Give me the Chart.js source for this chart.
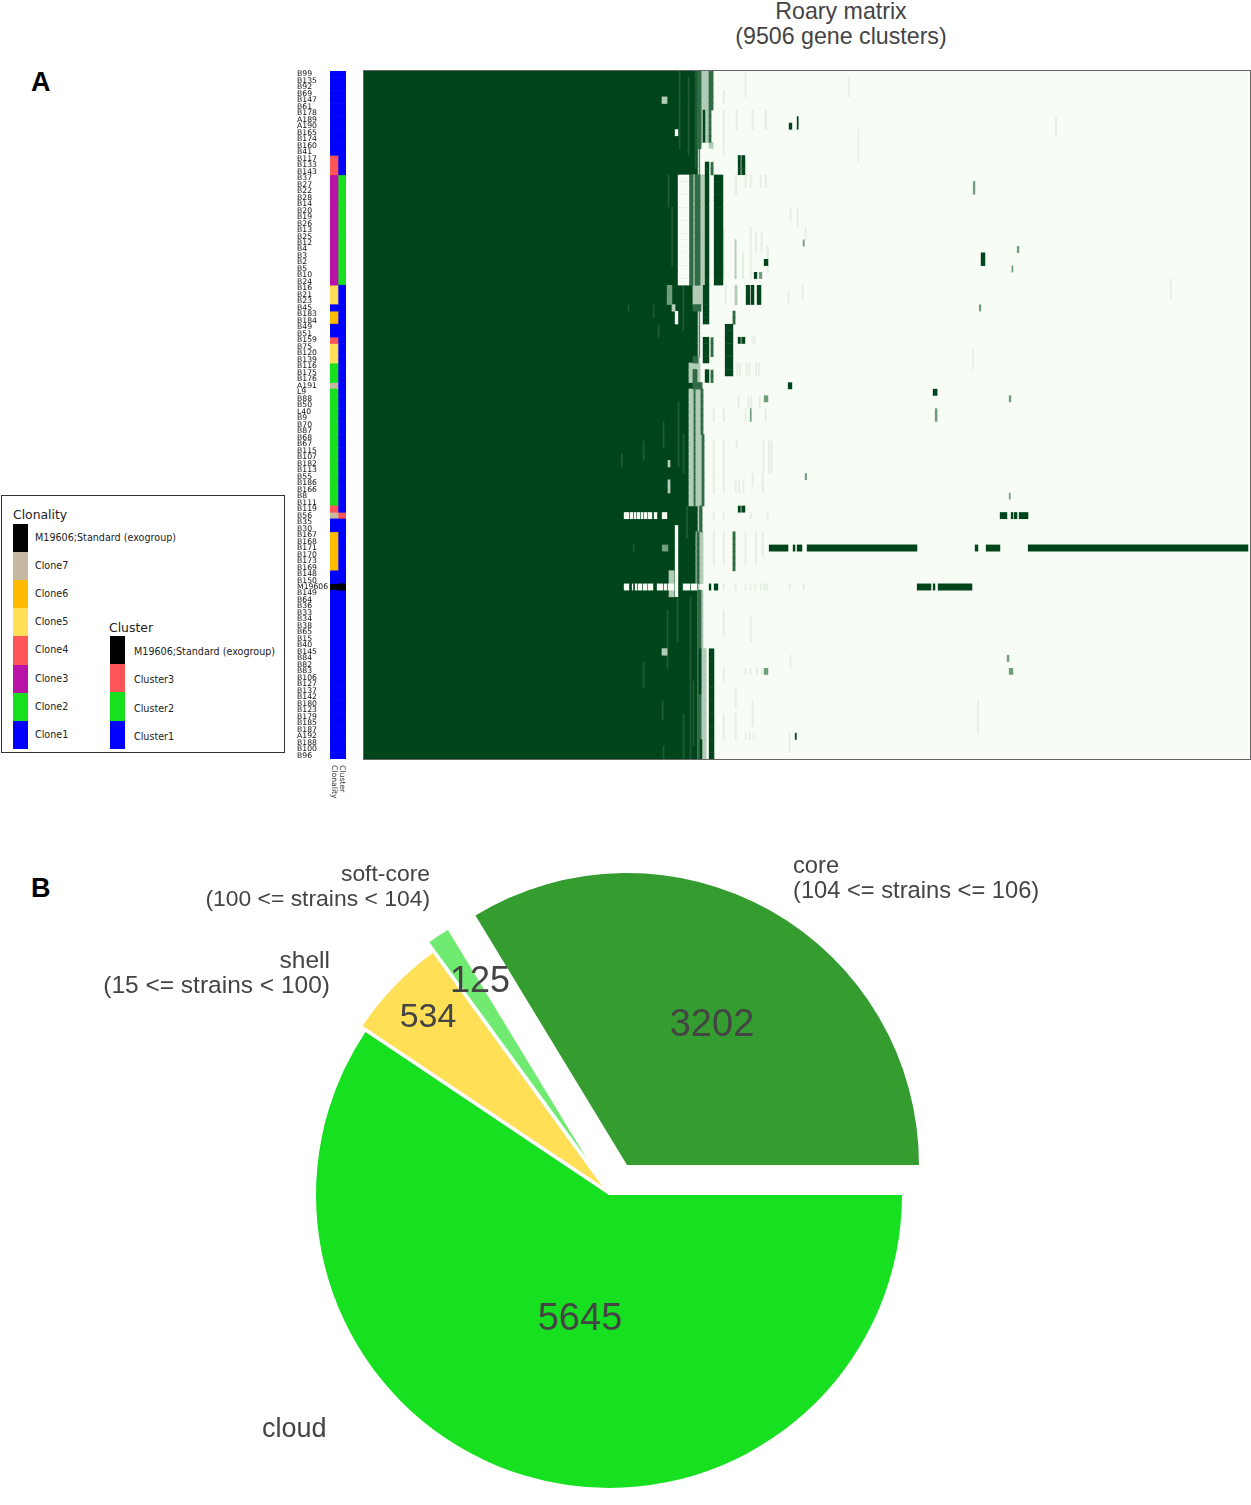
<!DOCTYPE html>
<html>
<head>
<meta charset="utf-8">
<title>Roary matrix</title>
<script src="https://cdn.jsdelivr.net/npm/chart.js@4/dist/chart.umd.min.js"></script>
<style>
  html, body { margin: 0; padding: 0; background: #fff; overflow: hidden; }
  body { position: relative; width: 1251px; height: 1505px; font-family: "Liberation Sans", sans-serif; color: #444; }
  canvas { position: absolute; display: block; }
  .txt { position: absolute; white-space: pre; line-height: 25px; font-size: 23.7px; }
  .letter { position: absolute; font-size: 27px; font-weight: bold; color: #000; line-height: 27px; }
  #legend { position: absolute; left: 1px; top: 495px; width: 282px; height: 256px; border: 1px solid #333; font-family: "DejaVu Sans", sans-serif; color: #222; }
  .swatch { position: absolute; width: 15px; }
  .leg { position: absolute; font-size: 9.6px; line-height: 12px; white-space: pre; }
  .legtitle { position: absolute; font-size: 12.4px; line-height: 14px; white-space: pre; }
</style>
</head>
<body>
<div class="letter" style="left:31px;top:69px">A</div>
<div class="letter" style="left:31px;top:875px">B</div>
<div class="txt" style="left:641px;width:400px;top:-1px;text-align:center;font-size:23.2px">Roary matrix
(9506 gene clusters)</div>

<div id="legend"></div>

<canvas id="stripChart" width="53" height="740" style="left:297px;top:60px"></canvas>
<canvas id="heatChart" width="886" height="688" style="left:364px;top:71px;background:#f7fcf5;outline:1px solid #666"></canvas>
<canvas id="pieChart" width="1251" height="665" style="left:0;top:840px"></canvas>

<div class="txt" style="left:793px;top:853px;font-size:23.7px">core
(104 &lt;= strains &lt;= 106)</div>
<div class="txt" style="right:821px;top:861px;text-align:right;font-size:22.9px">soft-core
(100 &lt;= strains &lt; 104)</div>
<div class="txt" style="right:921px;top:947px;text-align:right;font-size:24.5px">shell
(15 &lt;= strains &lt; 100)</div>
<div class="txt" style="left:262px;top:1416px;font-size:27px">cloud</div>

<script>
// ---- data ----
const strains = ['B99','B135','B92','B69','B147','B61','B178','A189','A190','B165','B174','B160','B41','B117','B133','B143',
  'B37','B27','B22','B28','B14','B20','B19','B26','B13','B25','B12','B4','B3','B2','B5','B10','B24','B16','B21','B23','B45',
  'B183','B184','B49','B51','B159','B75','B120','B139','B116','B175','B176','A191','L9','B88','B50','L40','B9','B70','B87',
  'B68','B67','B115','B107','B182','B113','B55','B186','B166','B8','B111','B119','B56','B35','B30','B167','B168','B171',
  'B170','B173','B169','B148','B150','M19606','B149','B64','B36','B33','B34','B38','B65','B15','B40','B145','B84','B82',
  'B83','B106','B127','B137','B142','B180','B123','B179','B185','B187','A192','B188','B100','B96'];

// group name, number of consecutive strains
const clonalityRuns = [['Clone1',13],['Clone4',3],['Clone3',17],['Clone5',3],['Clone1',1],['Clone6',2],['Clone1',2],['Clone4',1],
  ['Clone5',3],['Clone2',3],['Clone7',1],['Clone2',18],['Clone4',1],['Clone7',1],['Clone1',2],['Clone6',6],['Clone1',2],
  ['M19606;Standard (exogroup)',1],['Clone1',26]];
const clusterRuns = [['Cluster1',16],['Cluster2',17],['Cluster1',35],['Cluster3',1],['Cluster1',10],
  ['M19606;Standard (exogroup)',1],['Cluster1',26]];

const clonalityNames = ['M19606;Standard (exogroup)','Clone7','Clone6','Clone5','Clone4','Clone3','Clone2','Clone1'];
const clusterNames = ['M19606;Standard (exogroup)','Cluster3','Cluster2','Cluster1'];
const stripColumns = ['Clonality','Cluster'];

const totalClusters = 9506;

// [first strain row, last strain row, first gene cluster, last gene cluster], rows counted from 1
const coreBlocks = [[1,12,0,3573],[13,16,0,3595],[17,36,0,3530],[37,44,0,3595],[45,45,0,3530],[46,48,0,3487],[49,49,0,3530],
  [50,67,0,3487],[68,71,0,3605],[72,79,0,3562],[80,106,0,3584]];

// thin lighter lines inside the core
const streakBlocks = [[37,38,3101,3113],[17,21,3262,3274],[1,12,3380,3392],[2,13,3477,3489],[1,15,3552,3564],[37,37,2833,2845],
  [40,41,3155,3167],[55,58,3208,3220],[58,60,2994,3006],[60,61,2760,2772],[52,61,3369,3381],[57,62,3423,3435],[82,88,3358,3370],
  [82,106,3498,3510],[95,104,3530,3542],[100,106,3423,3435],[98,100,3198,3210],[92,95,2994,3006],[105,106,3208,3220],[74,74,2887,2899],
  [22,30,3300,3312],[34,40,3420,3432],[68,72,3460,3472],[84,92,3250,3262]];

const faintBlocks = [[4,5,3852,3866],[7,11,3852,3866],[7,9,3992,4006],[1,4,4088,4100],[7,9,4163,4175],[7,9,4303,4320],[12,13,3852,3864],
  [17,19,3981,4000],[17,18,4088,4100],[17,18,4142,4154],[17,18,4249,4262],[17,18,4303,4320],[22,23,4571,4583],[22,24,4646,4658],
  [25,32,3852,3866],[29,32,4060,4074],[25,32,4142,4156],[26,28,4200,4214],[26,28,4260,4272],[28,31,4324,4340],[25,26,4732,4744],
  [34,36,3874,3888],[35,36,4550,4562],[34,35,4700,4712],[42,42,4163,4175],[42,42,4190,4200],[46,47,4000,4012],[46,47,4030,4042],
  [46,47,4100,4112],[46,47,4130,4142],[46,47,4200,4212],[46,47,4230,4242],[51,52,4013,4025],[51,52,4120,4132],[51,52,4150,4162],
  [51,52,4240,4252],[53,54,3745,3760],[53,54,3852,3866],[53,54,4088,4100],[53,54,4303,4317],[58,62,3745,3760],[58,62,3852,3866],
  [58,62,4281,4293],[58,62,4340,4352],[58,62,4366,4378],[58,58,3992,4010],[63,65,3745,3760],[63,65,3852,3866],[64,65,3981,3993],
  [64,65,4020,4032],[64,65,4066,4078],[63,64,4163,4175],[63,65,4270,4285],[69,69,3745,3760],[69,69,3852,3866],[69,69,4142,4156],
  [69,69,4324,4338],[72,76,3745,3760],[72,76,3852,3866],[72,76,4088,4100],[72,76,4200,4214],[72,75,4270,4285],[80,80,3852,3866],
  [80,80,3981,3995],[80,80,4088,4100],[80,80,4142,4154],[80,80,4190,4202],[80,80,4250,4262],[80,80,4290,4302],[80,80,4318,4330],
  [80,80,4560,4574],[80,80,4710,4725],[84,87,3852,3866],[85,88,4142,4156],[91,92,4570,4582],[93,94,3852,3866],[93,93,4088,4100],
  [93,93,4142,4154],[93,93,4210,4222],[93,93,4262,4274],[96,98,3981,3995],[98,101,4163,4175],[100,103,3852,3866],[100,103,3981,3995],
  [103,103,4088,4100],[103,103,4130,4142],[103,103,4175,4187],[103,105,4560,4572],[10,14,5300,5310],[44,46,6530,6540],[33,35,8650,8662],
  [8,10,7420,7430],[98,102,6580,6592],[2,4,5200,5210]];

const paleBlocks = [[1,6,3616,3702],[12,12,3702,3745],[7,11,3659,3702],[7,11,3616,3637],[17,33,3530,3552],[17,33,3605,3659],
  [34,36,3530,3627],[46,48,3487,3605],[50,67,3487,3541],[50,67,3552,3616],[57,67,3616,3627],[72,79,3595,3637],[72,79,3562,3573],
  [90,106,3616,3670],[81,89,3616,3637],[78,81,3273,3326],[5,5,3198,3251],[61,61,3262,3283],[64,65,3262,3283],
  [90,90,3198,3251],[34,36,3981,4002],[37,37,3305,3337],[27,32,3981,3992],[1,106,3584,3595]];

const midBlocks = [[18,19,6535,6556],[28,28,7007,7028],[31,31,6950,6964],[37,37,6600,6620],[53,54,6127,6150],[51,51,6921,6942],
  [66,66,6921,6935],[91,91,6899,6921],[93,93,6921,6964],[93,93,4292,4335],[51,51,4292,4335],[63,63,4732,4750],[27,27,4710,4725],
  [32,32,4240,4270],[53,54,4142,4156],[34,36,3251,3305],[74,74,3198,3262]];

const strongBlocks = [[1,12,3573,3616],[1,6,3702,3745],[7,11,3702,3723],[15,16,3723,3745],[17,33,3487,3530],[17,33,3552,3605],
  [37,37,3530,3616],[42,44,3723,3745],[47,48,3530,3573],[47,48,3723,3745],[45,45,3530,3584],[49,49,3530,3627],[50,67,3541,3552],
  [50,56,3616,3637],[57,67,3627,3648],[68,71,3605,3627],[72,79,3573,3595],[81,106,3584,3616],[38,39,3959,3981],[72,77,3959,3981]];

// white gaps in the core and empty cells next to it
const gapBlocks = [[17,33,3369,3487],[10,10,3337,3369],[38,39,3337,3369],[71,81,3337,3369],[13,14,3616,3745],[40,41,3616,3745],[46,46,3637,3745],
  [69,69,2790,2843],[69,69,2854,2886],[69,69,2897,2919],[69,69,2929,2961],[69,69,2972,2994],[69,69,3004,3037],[69,69,3047,3090],[69,69,3112,3144],[69,69,3198,3251],
  [80,80,2790,2843],[80,80,2876,2886],[80,80,2908,2929],[80,80,2940,2983],[80,80,2994,3037],[80,80,3047,3101],[80,80,3144,3208],[80,80,3219,3251],[80,80,3262,3326],[80,80,3423,3498],[80,80,3509,3573]];

const solidBlocks = [[7,11,3637,3659],[15,16,3659,3702],[14,16,4013,4040],[14,16,4051,4088],[17,33,3659,3702],[17,33,3756,3852],
  [34,39,3637,3702],[42,45,3637,3702],[47,48,3659,3702],[40,47,3874,3959],[42,42,4013,4040],[42,42,4051,4088],
  [34,36,4099,4142],[34,36,4153,4185],[34,36,4217,4260],[68,68,4013,4040],[68,68,4051,4088],
  [69,69,6824,6899],[69,69,6942,6964],[69,69,6975,7007],[69,69,7028,7125],
  [74,74,4346,4550],[74,74,4603,4625],[74,74,4646,4700],[74,74,4753,5934],[74,74,6556,6588],[74,74,6674,6824],[74,74,7125,9485],
  [80,80,3702,3723],[80,80,3756,3798],[80,80,5934,6084],[80,80,6105,6127],[80,80,6159,6524],
  [90,106,3702,3756],[90,96,3595,3616],[104,106,3605,3627],[8,9,4646,4660],[9,9,4560,4592],[30,30,4292,4335],[32,32,4185,4217],
  [29,30,6620,6663],[49,49,4550,4592],[50,50,6105,6150],[103,103,4625,4640]];

const pieLabels = ['cloud','shell','soft-core','core'];
const pieValues = [5645,534,125,3202];

// ---- styles ----
const groupColors = {
  'M19606;Standard (exogroup)': '#000000', Clone7: '#c7b9a0', Clone6: '#ffbb00', Clone5: '#ffdf55', Clone4: '#ff5558',
  Clone3: '#b813a6', Clone2: '#17e01f', Clone1: '#0000ff', Cluster3: '#ff5558', Cluster2: '#17e01f', Cluster1: '#0000ff'
};
const pieColors = ['#17e021','#ffdf55','#70ea70','#359c30'];
const labelFont = '"DejaVu Sans", sans-serif';

// strip rows, legend swatches
function runsToRows(runs) {
  const rows = [];
  runs.forEach(([name, count]) => { for (let i = 0; i < count; i++) rows.push(name); });
  return rows;
}

function stripDatasets() {
  const sets = {};
  [runsToRows(clonalityRuns), runsToRows(clusterRuns)].forEach((rows, col) => {
    rows.forEach((name, r) => {
      if (!sets[name]) sets[name] = [];
      sets[name].push({ x: [col, col + 1], y: strains[r] });
    });
  });
  return Object.keys(sets).map(name => ({
    label: name, data: sets[name], backgroundColor: groupColors[name], grouped: false, barPercentage: 1, categoryPercentage: 1, inflateAmount: 0.3
  }));
}

// one bar per strain for each block
function blockBars(blocks) {
  const bars = [];
  blocks.forEach(([r0, r1, g0, g1]) => {
    for (let r = r0; r <= r1; r++) bars.push({ x: [g0, g1], y: strains[r - 1] });
  });
  return bars;
}

function heatLayer(label, blocks, color, order, inflate) {
  return { label, data: blockBars(blocks), backgroundColor: color, order, grouped: false, barPercentage: 1, categoryPercentage: 1, inflateAmount: inflate };
}

// column names below the strip, reading downwards
const stripColumnLabels = {
  id: 'stripColumnLabels',
  afterDraw(chart) {
    const { ctx, scales } = chart;
    ctx.save();
    ctx.font = '7.7px ' + labelFont;
    ctx.fillStyle = '#333';
    ctx.textBaseline = 'middle';
    stripColumns.forEach((name, i) => {
      ctx.save();
      ctx.translate(scales.x.getPixelForValue(i + 0.5) - 0.5, scales.y.bottom + 6);
      ctx.rotate(Math.PI / 2);
      ctx.fillText(name, 0, 0);
      ctx.restore();
    });
    ctx.restore();
  }
};

new Chart(document.getElementById('stripChart'), {
  type: 'bar',
  data: { labels: strains, datasets: stripDatasets() },
  plugins: [stripColumnLabels],
  options: {
    indexAxis: 'y',
    responsive: false,
    animation: false,
    events: [],
    layout: { padding: { top: 11, right: 4, bottom: 0, left: 0 } },
    plugins: { legend: { display: false }, tooltip: { enabled: false } },
    scales: {
      x: {
        type: 'linear', min: 0, max: 2,
        grid: { display: false }, border: { display: false },
        ticks: { display: false },
        afterFit: s => { s.height = 41; }
      },
      y: {
        grid: { display: false }, border: { display: false },
        afterFit: s => { s.width = 33; },
        ticks: { autoSkip: false, padding: 0, crossAlign: 'far', color: '#111', font: { size: 7.7, family: labelFont } }
      }
    }
  }
});

new Chart(document.getElementById('heatChart'), {
  type: 'bar',
  data: {
    labels: strains,
    datasets: [
      heatLayer('accessory', solidBlocks, '#00441b', 1, 0.2),
      heatLayer('gaps', gapBlocks, '#f7fcf5', 2, 0.2),
      heatLayer('strong', strongBlocks, '#2f6b45', 3, 0.4),
      heatLayer('mid', midBlocks, '#6f9d7e', 4, 0.2),
      heatLayer('pale', paleBlocks, '#b3ccb7', 5, 0.4),
      heatLayer('faint', faintBlocks, '#e4eee2', 6, 0.3),
      heatLayer('streaks', streakBlocks, '#1d5c36', 7, 0.3),
      heatLayer('core', coreBlocks, '#00441b', 8, 1)
    ]
  },
  options: {
    indexAxis: 'y',
    responsive: false,
    animation: false,
    events: [],
    plugins: { legend: { display: false }, tooltip: { enabled: false } },
    scales: {
      x: { type: 'linear', min: 0, max: totalClusters, display: false },
      y: { display: false }
    }
  }
});

// exploded wedges: each slice has its own apex shift and radius
const pieCentre = { x: 609, y: 355 };
const sliceShift = [[0,0],[-7,-9],[-22,-36],[18,-30]];
const sliceRadius = [293,288,268,292];
const valueSpots = [[580,480],[428,178],[480,142],[712,186]];
const valueSizes = [38,34,36,38];

const explodePie = {
  id: 'explodePie',
  afterDatasetsUpdate(chart) {
    chart.getDatasetMeta(0).data.forEach((arc, i) => {
      arc.x = pieCentre.x + sliceShift[i][0];
      arc.y = pieCentre.y + sliceShift[i][1];
      arc.innerRadius = 0;
      arc.outerRadius = sliceRadius[i];
    });
  },
  afterDraw(chart) {
    const ctx = chart.ctx;
    ctx.save();
    ctx.fillStyle = '#444';
    ctx.textAlign = 'center';
    ctx.textBaseline = 'middle';
    pieValues.forEach((v, i) => {
      ctx.font = valueSizes[i] + 'px "Liberation Sans", sans-serif';
      ctx.fillText(String(v), valueSpots[i][0], valueSpots[i][1]);
    });
    ctx.restore();
  }
};

new Chart(document.getElementById('pieChart'), {
  type: 'pie',
  data: { labels: pieLabels, datasets: [{ data: pieValues, backgroundColor: pieColors, borderWidth: 0 }] },
  plugins: [explodePie],
  options: {
    responsive: false,
    animation: false,
    events: [],
    rotation: 90,
    plugins: { legend: { display: false }, tooltip: { enabled: false } }
  }
});

// legend box
const legend = document.getElementById('legend');
function addLegendColumn(title, names, swatchLeft, textLeft, titleTop, firstTop, pitch, textShift) {
  const t = document.createElement('div');
  t.className = 'legtitle';
  t.style.left = title === 'Clonality' ? swatchLeft + 'px' : (swatchLeft - 1) + 'px';
  t.style.top = titleTop + 'px';
  t.textContent = title;
  legend.appendChild(t);
  names.forEach((name, i) => {
    const top = firstTop + i * pitch;
    const s = document.createElement('div');
    s.className = 'swatch';
    s.style.left = swatchLeft + 'px';
    s.style.top = top + 'px';
    s.style.height = (pitch + 0.5) + 'px';
    s.style.background = groupColors[name];
    legend.appendChild(s);
    const l = document.createElement('div');
    l.className = 'leg';
    l.style.left = textLeft + 'px';
    l.style.top = (top + pitch / 2 - 7 + textShift) + 'px';
    l.textContent = name;
    legend.appendChild(l);
  });
}
addLegendColumn('Clonality', clonalityNames, 11, 33, 12, 28, 28.1, 1);
addLegendColumn('Cluster', clusterNames, 108, 132, 125, 140, 28.2, 3);
</script>
</body>
</html>
